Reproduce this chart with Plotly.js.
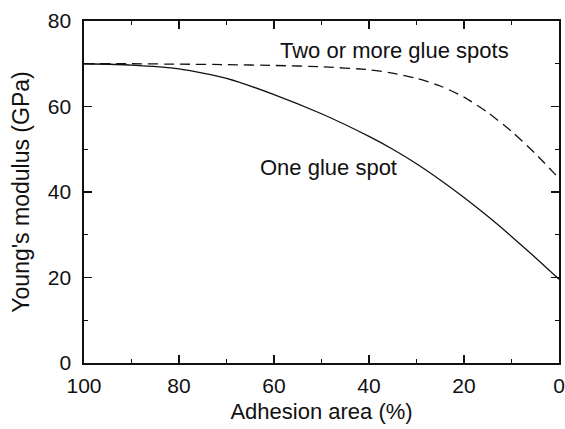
<!DOCTYPE html>
<html>
<head>
<meta charset="utf-8">
<script src="https://cdn.plot.ly/plotly-3.0.1.min.js"></script>
<style>html,body{margin:0;padding:0;background:#fff;}#chart{width:565px;height:429px;}</style>
</head>
<body>
<div id="chart"></div>
<script>
// Adhesion area (%) and Young's modulus (GPa)
const adhesionArea = [100, 90, 80, 70, 60, 50, 40, 35, 30, 25, 20, 15, 10, 5, 0];
const oneGlueSpot = [70, 69.7, 68.8, 66.6, 62.8, 58.3, 53.0, 50.0, 46.6, 42.8, 38.7, 34.3, 29.6, 24.7, 19.6];
const twoOrMoreGlueSpots = [70, 70, 69.9, 69.8, 69.6, 69.3, 68.6, 67.8, 66.6, 64.8, 62.2, 58.6, 54.2, 49.0, 43.2];
const xTicks = [0, 20, 40, 60, 80, 100];
const yTicks = [0, 20, 40, 60, 80];
const labels = ["One glue spot", "Two or more glue spots"];

const FONT = "Liberation Sans, Arial, Helvetica, sans-serif";

const traces = [
  {x: adhesionArea, y: oneGlueSpot, mode: "lines", name: labels[0],
   line: {color: "#111", width: 1.3, shape: "spline", smoothing: 0.6}},
  {x: adhesionArea, y: twoOrMoreGlueSpots, mode: "lines", name: labels[1],
   line: {color: "#111", width: 1.3, dash: "10px,6px", shape: "spline", smoothing: 0.6}}
];

const axisCommon = {
  showgrid: false, zeroline: false, showline: true, linecolor: "#111", linewidth: 1.6,
  mirror: "ticks", ticks: "inside", ticklen: 8, tickwidth: 1.4, tickcolor: "#111",
  tickfont: {family: FONT, size: 21, color: "#111"},
  minor: {ticks: "inside", ticklen: 4, tickwidth: 1.2, tickcolor: "#111", dtick: 10, showgrid: false}
};

const layout = {
  width: 565, height: 429,
  margin: {l: 84, r: 6, t: 21, b: 66},
  paper_bgcolor: "#fff", plot_bgcolor: "#fff",
  showlegend: false,
  font: {family: FONT, size: 21, color: "#111"},
  xaxis: Object.assign({}, axisCommon, {
    range: [100, 0], tickvals: xTicks, ticktext: xTicks.map(String),
    ticklabelstandoff: 3,
    title: {text: "Adhesion area (%)", font: {family: FONT, size: 22, color: "#111"}, standoff: 8}
  }),
  yaxis: Object.assign({}, axisCommon, {
    range: [0, 80], tickvals: yTicks, ticktext: yTicks.map(String),
    ticklabelstandoff: 7,
    title: {text: "Young's modulus (GPa)", font: {family: FONT, size: 23, color: "#111"}, standoff: 12}
  }),
  annotations: [
    {x: 59.2, y: 73, xref: "x", yref: "y", text: labels[1], showarrow: false,
     xanchor: "left", yanchor: "middle", font: {family: FONT, size: 22, color: "#111"}},
    {x: 63.4, y: 45.8, xref: "x", yref: "y", text: labels[0], showarrow: false,
     xanchor: "left", yanchor: "middle", font: {family: FONT, size: 22, color: "#111"}}
  ]
};

Plotly.newPlot("chart", traces, layout, {staticPlot: true, displayModeBar: false});
</script>
</body>
</html>
